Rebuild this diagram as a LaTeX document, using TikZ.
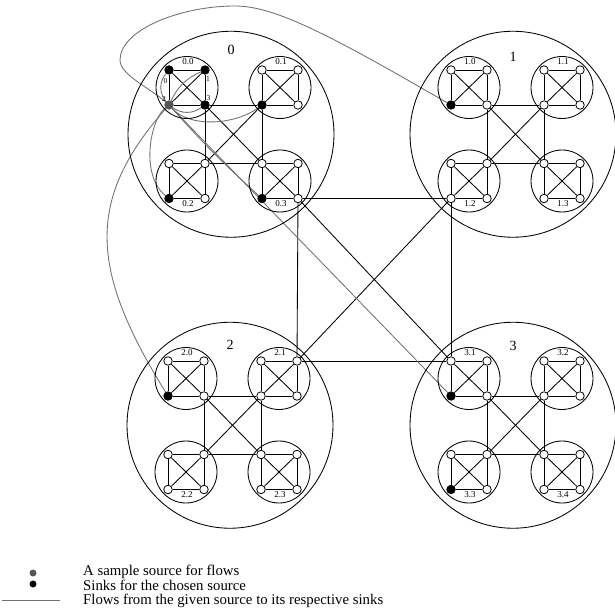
\documentclass[tikz,border=0pt]{standalone}
\usepackage{fontspec}
\setmainfont{Liberation Serif}
\usetikzlibrary{positioning, calc, backgrounds}
\definecolor{srcgray}{HTML}{555555}
\definecolor{flowgray}{HTML}{6F6F6F}

\begin{document}
\begin{tikzpicture}[
    x=1pt, y=-1pt,
    host_node/.style={circle, draw=black, fill=white, line width=0.8pt, inner sep=0pt, minimum size=8.5pt},
    sink_node/.style={host_node, fill=black},
    source_node/.style={host_node, draw=srcgray, fill=srcgray},
    link/.style={draw=black, line width=0.85pt},
    ring/.style={draw=black, line width=0.85pt},
    flow/.style={draw=flowgray, line width=0.85pt},
    cluster_label/.style={font=\fontsize{14}{16}\selectfont},
    sub_label/.style={font=\fontsize{9}{10}\selectfont, inner sep=0pt},
    idx_label/.style={font=\fontsize{7.5}{8}\selectfont, inner sep=0pt},
    legend_text/.style={font=\fontsize{14.8}{16}\selectfont, anchor=west, inner sep=0pt},
    legend_dot/.style={circle, inner sep=0pt, minimum size=7pt},
    % source and sinks of the sample flow
    pick 0-0-2/.style={source_node},
    pick 0-0-0/.style={sink_node}, pick 0-0-1/.style={sink_node}, pick 0-0-3/.style={sink_node},
    pick 0-1-2/.style={sink_node}, pick 0-2-2/.style={sink_node}, pick 0-3-2/.style={sink_node},
    pick 1-0-2/.style={sink_node}, pick 2-0-2/.style={sink_node},
    pick 3-0-2/.style={sink_node}, pick 3-2-2/.style={sink_node}
]
\useasboundingbox (0,0) rectangle (615,612);

% Hosts: cluster - subcluster - host
\foreach \c/\cx/\cy in {0/169/70, 1/451/70, 2/168/361, 3/451/361} {
  \foreach \s/\sx/\sy in {0/0/0, 1/93/0, 2/0/93.5, 3/93/93.5} {
    \foreach \k/\kx/\ky in {0/0/0, 1/36/0, 2/0/35, 3/36/35} {
      \node[host_node, pick \c-\s-\k/.try] (n\c-\s-\k) at (\cx+\sx+\kx, \cy+\sy+\ky) {};
    }
  }
}

% Rings and labels
\foreach \c/\cx/\cy/\ly/\off in {0/169/70/50/0, 1/451/70/57/0, 2/168/361/345/0, 3/451/361/346/1} {
  \draw[ring] (\cx+62, \cy+64.25) circle (103pt);
  \node[cluster_label] (cl\c) at (\cx+62, \ly) {\c};
  \foreach \s/\sx/\sy/\dy in {0/0/0/-8, 1/93/0/-8, 2/0/93.5/40.5, 3/93/93.5/40.5} {
    \draw[ring] (\cx+\sx+18, \cy+\sy+17.5) circle (31pt);
    \pgfmathtruncatemacro\lbl{\s+\off}
    \node[sub_label] (sl\c-\s) at (\cx+\sx+19, \cy+\sy+\dy) {\c.\lbl};
  }
}

% Host numbers
\node[idx_label, below=4pt of n0-0-0, xshift=-3.5pt] (ix0) {0};
\node[idx_label, below=2pt of n0-0-1, xshift=3pt] (ix1) {1};
\node[idx_label, above=-1pt of n0-0-2, xshift=-5pt] (ix2) {2};
\node[idx_label, above=0pt of n0-0-3, xshift=3.5pt] (ix3) {3};

\begin{scope}[on background layer]
\foreach \c in {0,...,3} {
  \foreach \s in {0,...,3} {
    \foreach \a/\b in {0/1,0/2,0/3,1/2,1/3,2/3}
      \draw[link] (n\c-\s-\a) -- (n\c-\s-\b);
  }
  % subclusters meet at their inner hosts
  \foreach \a/\b in {0/1,0/2,0/3,1/2,1/3,2/3} {
    \pgfmathtruncatemacro\ia{3-\a}
    \pgfmathtruncatemacro\ib{3-\b}
    \draw[link] (n\c-\a-\ia) -- (n\c-\b-\ib);
  }
}
% clusters meet the same way
\foreach \a/\b in {0/1,0/2,0/3,1/2,1/3,2/3} {
  \pgfmathtruncatemacro\ia{3-\a}
  \pgfmathtruncatemacro\ib{3-\b}
  \draw[link] (n\a-\ia-\ia) -- (n\b-\ib-\ib);
}

% Flows
\draw[flow] (n0-0-2) to[bend left=40] (n0-0-0);
\draw[flow] (n0-0-2) to[bend left=20] (n0-0-1);
\draw[flow] (n0-0-2) to[bend right=35] (n0-0-3);
\draw[flow] (n0-0-2) .. controls (190,128) and (235,125) .. (n0-1-2);
\draw[flow] (n0-0-2) .. controls (150,120) and (140,175) .. (n0-2-2);
\draw[flow] (n0-0-2) to[bend right=3] (n0-3-2);
\draw[flow] (n0-0-2) .. controls (150,88) and (120,75) .. (120,60)
    .. controls (120,30) and (180,6) .. (235,6)
    .. controls (275,6) and (330,35) .. (n1-0-2);
\draw[flow] (n0-0-2) .. controls (85,200) and (90,270) .. (n2-0-2);
\draw[flow] (n0-0-2) -- (n3-0-2);
\end{scope}

% Legend
\node[legend_dot, fill=srcgray] (key_src) at (33,573) {};
\node[legend_dot, fill=black] (key_sink) at (33,584) {};
\coordinate (key_a) at (2,600);
\coordinate (key_b) at (60,600);
\draw[flow] (key_a) -- (key_b);
\node[legend_text] (txt_src) at (83,572) {A sample source for flows};
\node[legend_text] (txt_sink) at (83,585) {Sinks for the chosen source};
\node[legend_text] (txt_flow) at (83,601) {Flows from the given source to its respective sinks};

\end{tikzpicture}
\end{document}
